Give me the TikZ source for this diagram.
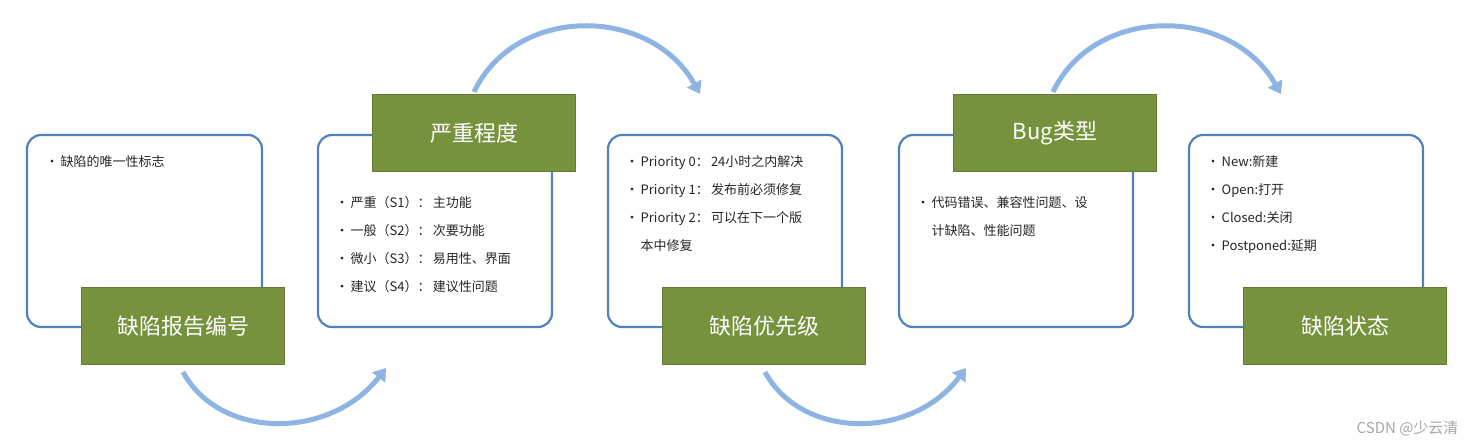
\documentclass[tikz,border=0pt]{standalone}
\usepackage{fontspec}
\setmainfont{Open Sans}
\newfontfamily\cjk{Noto Sans CJK SC}
\usetikzlibrary{arrows.meta}
\definecolor{bl}{HTML}{4F81BD}
\definecolor{gr}{HTML}{76923C}
\definecolor{arc}{HTML}{8DB4E2}
\tikzset{
 frame/.style={draw=bl,line width=2.2pt,rounded corners=14pt,fill=white},
 tag/.style={fill=gr,draw=gr!85!black,line width=0.6pt,minimum width=203pt,minimum height=77pt,text=white,font=\cjk\fontsize{22}{26}\selectfont},
 body/.style={anchor=north west,align=left,font=\cjk\fontsize{13}{28}\selectfont,text=black!85},
 flow/.style={draw=arc,line width=5pt,-{Triangle[length=12pt,width=16pt]}}
}
\begin{document}
\begin{tikzpicture}[x=1pt,y=-1pt]
\useasboundingbox (0,0) rectangle (1469,447);
% arcs
\coordinate (a1s) at (183,372); \coordinate (a1e) at (386,368);
\draw[flow] (a1s) .. controls (220,440) and (330,440) .. (a1e);
\coordinate (a2s) at (474,92); \coordinate (a2e) at (700,94);
\draw[flow] (a2s) .. controls (515,5) and (650,5) .. (a2e);
\coordinate (a3s) at (765,372); \coordinate (a3e) at (966,368);
\draw[flow] (a3s) .. controls (802,440) and (912,440) .. (a3e);
\coordinate (a4s) at (1053,92); \coordinate (a4e) at (1281,94);
\draw[flow] (a4s) .. controls (1094,5) and (1230,5) .. (a4e);
% frames
\draw[frame] (27,135) rectangle (262,327); \node (b1) at (144,231) {};
\draw[frame] (318,135) rectangle (552,327); \node (b2) at (435,231) {};
\draw[frame] (608,135) rectangle (842,327); \node (b3) at (725,231) {};
\draw[frame] (899,135) rectangle (1133,327); \node (b4) at (1016,231) {};
\draw[frame] (1189,135) rectangle (1423,327); \node (b5) at (1306,231) {};
% tags
\node[tag] (t1) at (183,326) {缺陷报告编号};
\node[tag] (t2) at (474,133) {严重程度};
\node[tag] (t3) at (764,326) {缺陷优先级};
\node[tag] (t4) at (1055,133) {Bug类型};
\node[tag] (t5) at (1345,326) {缺陷状态};
% texts
\node[body] (x1) at (42,152) {•\,缺陷的唯一性标志};
\node[body] (x2) at (332,193) {•\,严重（S1）：\,主功能\\•\,一般（S2）：\,次要功能\\•\,微小（S3）：\,易用性、界面\\•\,建议（S4）：\,建议性问题};
\node[body] (x3) at (622,152) {•\,Priority 0：\,24小时之内解决\\•\,Priority 1：\,发布前必须修复\\•\,Priority 2：\,可以在下一个版\\\phantom{•\,}本中修复};
\node[body] (x4) at (913,193) {•\,代码错误、兼容性问题、设\\\phantom{•\,}计缺陷、性能问题};
\node[body] (x5) at (1203,152) {•\,New:新建\\•\,Open:打开\\•\,Closed:关闭\\•\,Postponed:延期};
\node[anchor=south east,text=black!35,font=\cjk\fontsize{15}{18}\selectfont] (wm) at (1462,440) {CSDN @少云清};
\end{tikzpicture}
\end{document}
